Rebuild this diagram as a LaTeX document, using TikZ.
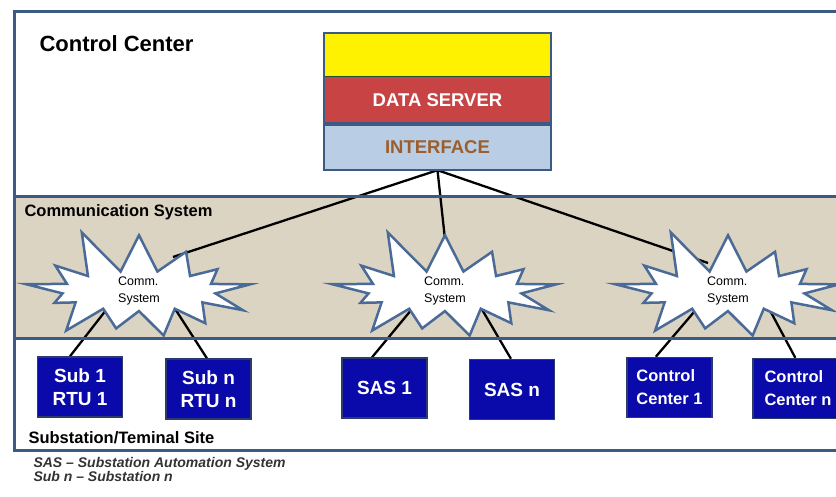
\documentclass[tikz,border=0pt]{standalone}
\usepackage{fontspec}
\setmainfont{Liberation Sans}
\usetikzlibrary{shapes.symbols}
\pgfdeclarelayer{bg}
\pgfsetlayers{bg,main}
\definecolor{framec}{HTML}{3B5A84}
\definecolor{bandc}{HTML}{DCD4C2}
\definecolor{burstc}{HTML}{4A6A98}
\definecolor{srvred}{HTML}{C84444}
\definecolor{ifcblue}{HTML}{B9CDE5}
\definecolor{ifctext}{HTML}{9C5E2C}
\definecolor{sitec}{HTML}{0A0AAA}
\definecolor{siteline}{HTML}{2B3B6B}
\newcommand{\fs}[1]{\fontsize{#1}{23}\selectfont}

\begin{document}
\begin{tikzpicture}[x=1pt,y=-1pt,
  frame/.style={draw=framec,line width=3pt},
  layer/.style={minimum width=227pt,inner sep=0pt,font=\bfseries\fs{18.5}},
  burst/.style={starburst,starburst points=13,starburst point height=48pt,
    random starburst=11,draw=burstc,fill=white,line width=2.5pt,
    minimum width=250pt,minimum height=42pt,inner sep=0pt,align=left,
    font=\fontsize{12.5}{17}\selectfont},
  site/.style={draw=siteline,fill=sitec,line width=1.5pt,minimum width=85pt,
    minimum height=60pt,inner sep=0pt,text=white,font=\bfseries\fs{19}},
  link/.style={black,line width=2.3pt}]
\useasboundingbox (0,0) rectangle (836,496);
\clip (0,0) rectangle (836,496);
% the three areas
\begin{pgfonlayer}{bg}
\fill[bandc] (14,196) rectangle (860,338);
\end{pgfonlayer}
\draw[frame] (860,11) -- (14,11) -- (14,450) -- (860,450);
\draw[frame] (14,196) -- (860,196) (14,338) -- (860,338);
\node[anchor=west,font=\bfseries\fs{22}] (cc) at (36,44) {Control Center};
\node[anchor=west,font=\bfseries\fs{16.5}] (cs) at (21,212) {Communication System};
\node[anchor=west,font=\bfseries\fs{16.5}] (st) at (25,438) {Substation/Teminal Site};
% server stack
\node[layer,fill=yellow,minimum height=43pt] (disp) at (437.5,54.5) {};
\node[layer,fill=srvred,minimum height=48pt,text=white] (srv) at (437.5,100) {DATA SERVER};
\node[layer,fill=ifcblue,minimum height=46pt,text=ifctext] (ifc) at (437.5,147) {INTERFACE};
\draw[framec!70!green!60!black,line width=1.2pt] (disp.south west) -- (disp.south east);
\draw[framec,line width=4pt] (srv.south west) -- (srv.south east);
\draw[framec,line width=2.5pt] (disp.north west) rectangle (ifc.south east);
% comm. systems
\node[burst] (b1) at (139,291) {Comm.\\System};
\node[burst] (b2) at (445,291) {Comm.\\System};
\node[burst] (b3) at (728,291) {Comm.\\System};
\path (b1) ++(34,-34) coordinate (b1t) (b1) ++(-29,14) coordinate (b1a) (b1) ++(31,10) coordinate (b1b);
\path (b2) ++(3,-24) coordinate (b2t) (b2) ++(-28,12) coordinate (b2a) (b2) ++(32,10) coordinate (b2b);
\path (b3) ++(-20,-28) coordinate (b3t) (b3) ++(-28,14) coordinate (b3a) (b3) ++(38,12) coordinate (b3b);
% sites
\node[site,align=center] (sub1) at (80,387) {Sub 1\\RTU 1};
\node[site,align=center] (subn) at (208.5,389) {Sub n\\RTU n};
\node[site] (sas1) at (384.5,388) {SAS 1};
\node[site] (sasn) at (512,389.5) {SAS n};
\node[site,align=left,font=\bfseries\fs{16.5}] (cc1) at (669.5,387.5) {Control\\Center 1};
\node[site,align=left,font=\bfseries\fs{16.5},minimum width=90pt] (ccn) at (798,388.5) {Control\\Center n};
% links
\begin{pgfonlayer}{bg}
\draw[link] (ifc.south) -- (b1t) (ifc.south) -- (b2t) (ifc.south) -- (b3t);
\draw[link] (b1a) -- (sub1.108) (b1b) -- (subn.93);
\draw[link] (b2a) -- (sas1.112) (b2b) -- (sasn.92);
\draw[link] (b3a) -- (cc1.114) (b3b) -- (ccn.95);
\end{pgfonlayer}
\node[anchor=north west,align=left,text=black!80,font=\bfseries\itshape\fontsize{14}{14}\selectfont] (leg) at (30,454)
  {SAS -- Substation Automation System\\Sub \textit{n} -- Substation \textit{n}};
\end{tikzpicture}
\end{document}
